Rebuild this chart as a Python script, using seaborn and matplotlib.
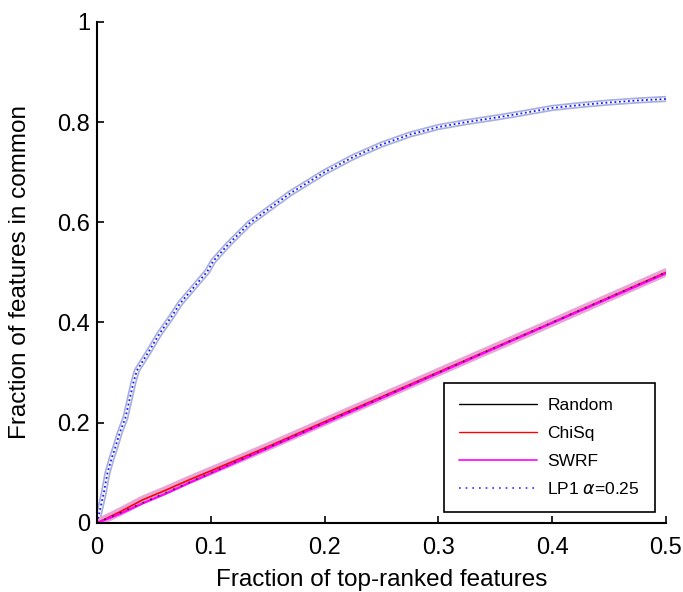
import matplotlib
matplotlib.use("Agg")
import matplotlib.pyplot as plt
import numpy as np
import pandas as pd
import seaborn as sns
from matplotlib.lines import Line2D

# Fraction of top-ranked features vs. fraction shared between rankings
lp1_x = [0, 0.003, 0.006, 0.009, 0.013, 0.016, 0.02, 0.025, 0.029, 0.032,
         0.035, 0.045, 0.055, 0.065, 0.073, 0.085, 0.097, 0.102, 0.115, 0.134,
         0.15, 0.17, 0.2, 0.225, 0.25, 0.275, 0.3, 0.325, 0.354, 0.375,
         0.4, 0.425, 0.45, 0.475, 0.5]
lp1_y = [0, 0.03, 0.06, 0.098, 0.13, 0.15, 0.18, 0.21, 0.25, 0.28,
         0.304, 0.34, 0.378, 0.41, 0.438, 0.47, 0.502, 0.522, 0.555, 0.598,
         0.625, 0.658, 0.70, 0.73, 0.755, 0.775, 0.79, 0.80, 0.81, 0.818,
         0.828, 0.834, 0.839, 0.843, 0.846]

diag_x = [0, 0.02, 0.04, 0.06, 0.08, 0.1, 0.15, 0.2, 0.3, 0.4, 0.5]
random_y = [0, 0.02, 0.04, 0.06, 0.08, 0.1, 0.15, 0.2, 0.3, 0.4, 0.5]
chisq_y = [0, 0.022, 0.046, 0.065, 0.085, 0.104, 0.152, 0.202, 0.301, 0.4, 0.5]
swrf_y = [0, 0.018, 0.039, 0.058, 0.079, 0.099, 0.149, 0.199, 0.299, 0.399, 0.498]

labels = ["Random", "ChiSq", "SWRF", r"LP1 $\alpha$=0.25"]

sns.set_style("ticks")
plt.rcParams["font.family"] = ["Liberation Sans", "DejaVu Sans"]
plt.rcParams["mathtext.fontset"] = "dejavusans"
plt.rcParams["text.color"] = "black"
plt.rcParams["axes.labelcolor"] = "black"

fig = plt.figure(figsize=(6.83, 5.92), dpi=100)
ax = fig.add_axes([0.142, 0.1166, 0.833, 0.8466])

lp1 = pd.DataFrame({"x": lp1_x, "y": lp1_y})
diag = pd.DataFrame({"x": diag_x, "random": random_y,
                     "chisq": chisq_y, "swrf": swrf_y})

# light envelopes around the curves
sns.lineplot(data=lp1, x="x", y="y", ax=ax, color="#a8b0dc", lw=4.5, legend=False)
sns.lineplot(data=lp1, x="x", y="y", ax=ax, color="white", lw=2.0, legend=False)
sns.lineplot(data=diag, x="x", y="chisq", ax=ax, color="#e8a4d4", lw=6, legend=False)

sns.lineplot(data=diag, x="x", y="chisq", ax=ax, color="red", lw=1.2, legend=False)
sns.lineplot(data=diag, x="x", y="swrf", ax=ax, color="magenta", lw=1.6, legend=False)
sns.lineplot(data=diag, x="x", y="random", ax=ax, color="black", lw=1.0,
             ls=(0, (1, 5)), legend=False)
sns.lineplot(data=lp1, x="x", y="y", ax=ax, color="#1a1aff", lw=1.3,
             ls=(0, (1, 1.5)), legend=False)

ax.set_xlim(0, 0.5)
ax.set_ylim(0, 1)
ax.set_xticks([0, 0.1, 0.2, 0.3, 0.4, 0.5])
ax.set_xticklabels(["0", "0.1", "0.2", "0.3", "0.4", "0.5"])
ax.set_yticks([0, 0.2, 0.4, 0.6, 0.8, 1])
ax.set_yticklabels(["0", "0.2", "0.4", "0.6", "0.8", "1"])
ax.tick_params(direction="in", length=5, width=1.2, labelsize=17, colors="black")
ax.tick_params(axis="x", pad=10)
ax.tick_params(axis="y", pad=5)
for s in ["top", "right"]:
    ax.spines[s].set_visible(False)
for s in ["left", "bottom"]:
    ax.spines[s].set_linewidth(1.5)
    ax.spines[s].set_color("black")

ax.set_xlabel("Fraction of top-ranked features", fontsize=17.5, labelpad=7, color="black")
ax.set_ylabel("Fraction of features in common", fontsize=17.5, labelpad=19, color="black")

handles = [
    Line2D([], [], color="black", lw=1.0),
    Line2D([], [], color="red", lw=1.0),
    Line2D([], [], color="magenta", lw=1.2),
    Line2D([], [], color="#3030ff", lw=1.2, ls=(0, (1, 3))),
]
leg = ax.legend(handles, labels, loc="lower right", bbox_to_anchor=(0.98, 0.022),
                borderaxespad=0, fontsize=12.5, handlelength=4.5, handletextpad=0.6,
                labelspacing=0.72, borderpad=0.85, fancybox=False,
                framealpha=1, edgecolor="black")
leg.get_frame().set_linewidth(1.2)
for t in leg.get_texts():
    t.set_color("black")

fig.savefig("out.png", dpi=100, facecolor="white")
